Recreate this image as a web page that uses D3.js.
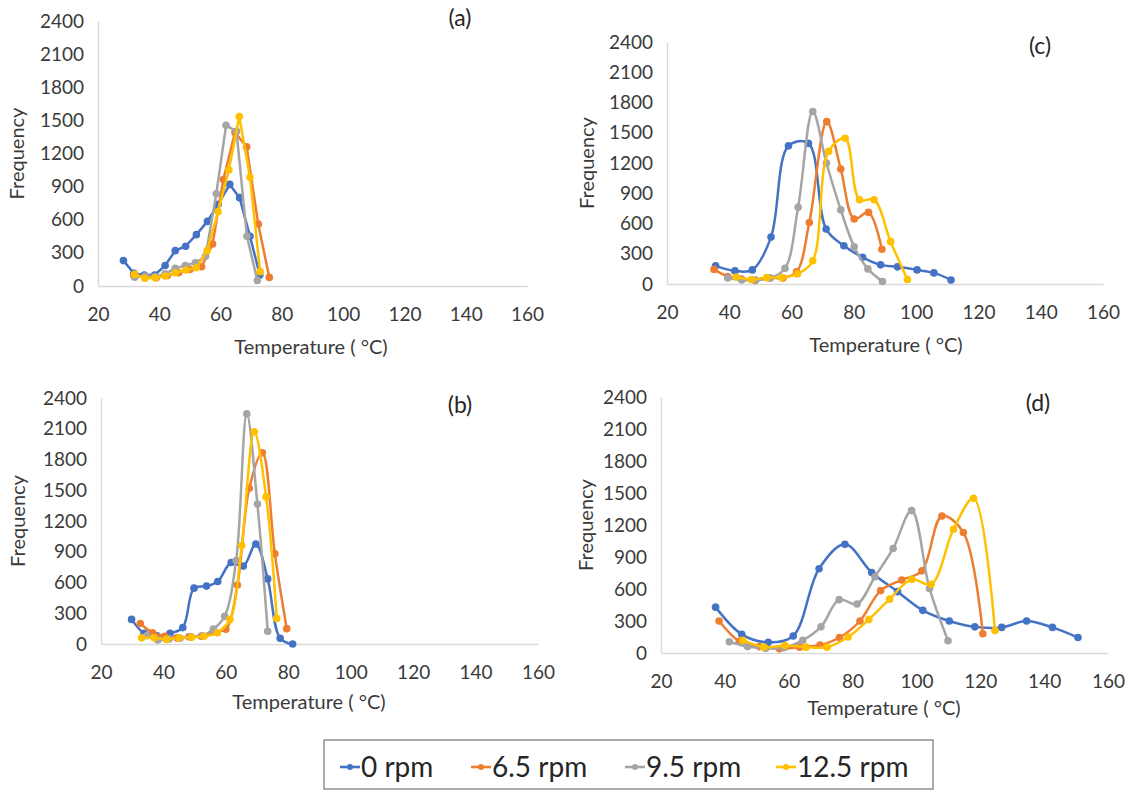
<!DOCTYPE html>
<html>
<head>
<meta charset="utf-8">
<script src="https://cdn.jsdelivr.net/npm/d3@7/dist/d3.min.js"></script>
<style>
  html, body { margin: 0; padding: 0; background: #ffffff; }
  svg { display: block; }
</style>
</head>
<body>
<svg id="chart" width="1129" height="790"></svg>
<script>
// ---------------- DATA ----------------
const xTicks = [20, 40, 60, 80, 100, 120, 140, 160];
const yTicks = [0, 300, 600, 900, 1200, 1500, 1800, 2100, 2400];
const seriesNames = ["0 rpm", "6.5 rpm", "9.5 rpm", "12.5 rpm"];
const panelLabels = ["(a)", "(b)", "(c)", "(d)"];
const xTitle = "Temperature ( \u00B0C)";
const yTitle = "Frequency";

// Panel (a)
const a0T = [28.3, 31.7, 35.1, 38.5, 41.9, 45.2, 48.6, 52.1, 55.7, 59.2, 63.0, 66.2, 69.6, 72.8];
const a0F = [230, 115, 100, 100, 185, 320, 360, 465, 585, 740, 920, 800, 450, 100];
const a1T = [31.6, 35.3, 39.0, 42.6, 46.3, 50.0, 53.8, 57.4, 60.9, 64.7, 68.5, 72.3, 75.9];
const a1F = [100, 80, 75, 95, 120, 150, 175, 380, 965, 1390, 1260, 560, 78];
const a2T = [32.0, 35.3, 38.6, 41.9, 45.2, 48.5, 51.8, 55.1, 58.6, 61.8, 65.2, 68.6, 72.0];
const a2F = [80, 90, 85, 110, 160, 185, 210, 270, 835, 1455, 1400, 450, 50];
const a3T = [32.0, 35.3, 38.6, 41.9, 45.3, 48.7, 52.1, 55.6, 59.2, 62.7, 66.1, 69.6, 72.9];
const a3F = [105, 70, 75, 90, 120, 145, 165, 320, 675, 1050, 1535, 985, 130];

// Panel (b)
const b0T = [29.8, 33.8, 37.9, 42.1, 46.2, 49.8, 53.8, 57.4, 61.7, 65.6, 69.6, 73.4, 77.4, 81.4];
const b0F = [240, 105, 80, 105, 160, 545, 565, 610, 795, 760, 975, 635, 55, 0];
const b1T = [32.6, 36.5, 40.4, 44.3, 48.2, 52.1, 56.1, 60.0, 63.7, 67.5, 71.7, 75.7, 79.5];
const b1F = [200, 110, 75, 60, 70, 75, 120, 145, 575, 1520, 1865, 880, 150];
const b2T = [34.7, 38.2, 41.8, 45.3, 48.9, 52.4, 56.0, 59.6, 63.3, 66.7, 70.1, 73.4];
const b2F = [80, 40, 50, 55, 70, 80, 145, 270, 815, 2245, 1365, 125];
const b3T = [33.0, 37.0, 41.0, 45.0, 49.0, 53.0, 57.3, 61.3, 65.1, 69.1, 72.9, 76.3];
const b3F = [60, 60, 45, 60, 65, 75, 110, 240, 960, 2070, 1435, 250];

// Panel (c)
const c0T = [35.6, 41.8, 47.4, 53.4, 59.0, 65.4, 71.1, 76.8, 82.8, 88.6, 94.0, 100.3, 105.7, 111.2];
const c0F = [180, 130, 140, 465, 1370, 1395, 545, 380, 265, 190, 170, 140, 110, 40];
const c1T = [35.1, 39.5, 43.9, 48.3, 52.7, 57.2, 61.6, 65.7, 71.3, 75.8, 80.1, 84.7, 89.0];
const c1F = [145, 75, 50, 35, 60, 60, 120, 610, 1610, 1140, 645, 710, 345];
const c2T = [39.5, 44.0, 48.5, 53.2, 57.9, 62.1, 66.8, 71.2, 75.8, 80.1, 84.5, 89.2];
const c2F = [60, 40, 40, 60, 155, 760, 1710, 1200, 735, 370, 150, 25];
const c3T = [42.2, 47.1, 52.0, 56.8, 61.9, 66.8, 71.9, 77.2, 81.8, 86.5, 91.8, 97.2];
const c3F = [70, 45, 65, 65, 100, 230, 1315, 1445, 835, 835, 420, 45];

// Panel (d)
const d0T = [37.1, 45.3, 53.6, 61.4, 69.5, 77.6, 86.0, 94.1, 102.0, 110.3, 118.3, 126.7, 134.5, 142.6, 150.6];
const d0F = [430, 175, 100, 160, 790, 1020, 755, 575, 400, 300, 245, 240, 300, 240, 145];
const d1T = [38.2, 44.5, 50.8, 57.1, 63.4, 69.8, 75.9, 82.3, 88.8, 95.4, 101.7, 108.0, 114.7, 120.8];
const d1F = [300, 110, 60, 40, 55, 75, 145, 300, 585, 685, 770, 1285, 1130, 180];
const d2T = [41.4, 47.1, 52.8, 58.5, 64.4, 70.1, 75.8, 81.4, 87.0, 92.7, 98.5, 104.1, 109.9];
const d2F = [105, 60, 45, 50, 120, 245, 500, 460, 715, 980, 1335, 605, 115];
const d3T = [45.6, 52.2, 58.8, 65.4, 72.0, 78.6, 85.1, 91.6, 98.5, 104.6, 111.6, 117.9, 124.6];
const d3F = [120, 55, 70, 55, 55, 150, 315, 505, 690, 645, 1160, 1450, 210];

// ---------------- STYLE / LAYOUT ----------------
const colors = ["#4472C4", "#ED7D31", "#A5A5A5", "#FFC000"];
const fontFam = "Lato, 'Open Sans', sans-serif";
const textColor = "#3a3a3a";
const axisColor = "#d9d9d9";

const panels = [
  { label: panelLabels[0], series: [[a0T,a0F],[a1T,a1F],[a2T,a2F],[a3T,a3F]], smooth: false,
    left: 98, right: 527, top: 21, bottom: 286, lx: 460, ly: 18, yx: 17, xx: 311, xy: 347 },
  { label: panelLabels[1], series: [[b0T,b0F],[b1T,b1F],[b2T,b2F],[b3T,b3F]], smooth: true,
    left: 101, right: 538, top: 398, bottom: 644, lx: 460, ly: 405, yx: 18, xx: 309, xy: 702 },
  { label: panelLabels[2], series: [[c0T,c0F],[c1T,c1F],[c2T,c2F],[c3T,c3F]], smooth: true,
    left: 667, right: 1103, top: 42, bottom: 284, lx: 1040, ly: 46, yx: 587, xx: 886, xy: 345 },
  { label: panelLabels[3], series: [[d0T,d0F],[d1T,d1F],[d2T,d2F],[d3T,d3F]], smooth: true,
    left: 661, right: 1108, top: 397, bottom: 653, lx: 1038, ly: 403, yx: 586, xx: 884, xy: 708 }
];

const svg = d3.select("#chart");
svg.append("rect").attr("width", 1129).attr("height", 790).attr("fill", "#ffffff");

panels.forEach(p => {
  const g = svg.append("g");
  const x = d3.scaleLinear().domain([20, 160]).range([p.left, p.right]);
  const y = d3.scaleLinear().domain([0, 2400]).range([p.bottom, p.top]);

  const gx = g.append("g")
    .attr("transform", `translate(0,${p.bottom})`)
    .call(d3.axisBottom(x).tickValues(xTicks).tickSize(0).tickPadding(22).tickFormat(d3.format("d")));
  const gy = g.append("g")
    .attr("transform", `translate(${p.left},0)`)
    .call(d3.axisLeft(y).tickValues(yTicks).tickSize(0).tickPadding(14).tickFormat(d3.format("d")));
  [gx, gy].forEach(a => {
    a.attr("font-family", fontFam).attr("font-size", 19);
    a.select(".domain").attr("stroke", axisColor).attr("stroke-width", 1.4);
    a.selectAll("text").attr("fill", textColor);
  });

  const line = d3.line()
    .x(d => x(d[0])).y(d => y(d[1]))
    .curve(p.smooth ? d3.curveCatmullRom.alpha(0.5) : d3.curveLinear);

  p.series.forEach((s, i) => {
    const pts = s[0].map((t, k) => [t, s[1][k]]);
    g.append("path").datum(pts)
      .attr("d", line)
      .attr("fill", "none")
      .attr("stroke", colors[i])
      .attr("stroke-width", 2.5)
      .attr("stroke-linejoin", "round");
    g.selectAll(null).data(pts).enter().append("circle")
      .attr("cx", d => x(d[0])).attr("cy", d => y(d[1]))
      .attr("r", 3.8).attr("fill", colors[i]);
  });

  g.append("text").attr("x", p.lx).attr("y", p.ly).attr("dy", "0.35em")
    .attr("text-anchor", "middle").attr("font-family", fontFam).attr("font-size", 23)
    .attr("fill", "#262626").text(p.label);

  g.append("text")
    .attr("transform", `translate(${p.yx},${(p.top + p.bottom) / 2}) rotate(-90)`)
    .attr("dy", "0.35em").attr("text-anchor", "middle")
    .attr("font-family", fontFam).attr("font-size", 20).attr("fill", textColor).text(yTitle);

  g.append("text").attr("x", p.xx).attr("y", p.xy).attr("dy", "0.35em")
    .attr("text-anchor", "middle").attr("font-family", fontFam).attr("font-size", 20)
    .attr("fill", textColor).text(xTitle);
});

// Legend
const legend = svg.append("g");
legend.append("rect").attr("x", 324).attr("y", 740).attr("width", 609).attr("height", 49)
  .attr("fill", "#ffffff").attr("stroke", "#7f7f7f").attr("stroke-width", 1.3);
const legX = [340, 471, 625, 776];
seriesNames.forEach((n, i) => {
  const lx = legX[i], ly = 767;
  legend.append("line").attr("x1", lx).attr("x2", lx + 20).attr("y1", ly).attr("y2", ly)
    .attr("stroke", colors[i]).attr("stroke-width", 2.6);
  legend.append("circle").attr("cx", lx + 10).attr("cy", ly).attr("r", 3).attr("fill", colors[i]);
  legend.append("text").attr("x", lx + 21).attr("y", ly).attr("dy", "0.35em")
    .attr("font-family", fontFam).attr("font-size", 28).attr("fill", "#262626").text(n);
});
</script>
</body>
</html>
